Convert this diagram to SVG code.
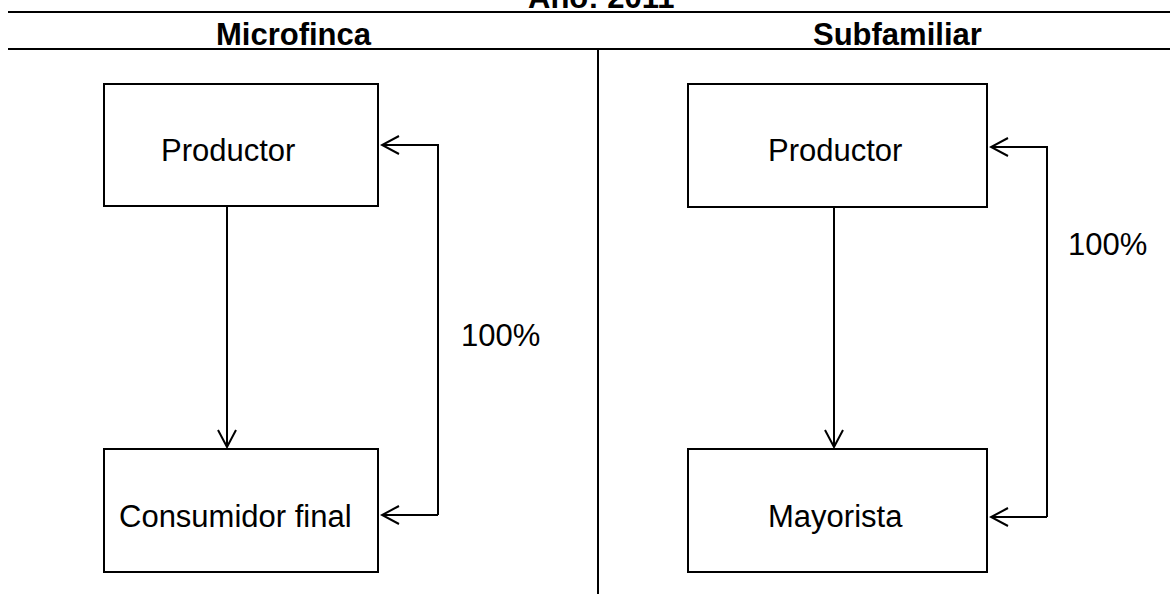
<svg xmlns="http://www.w3.org/2000/svg" width="1175" height="594" viewBox="0 0 1175 594">
<style>
.box{fill:#fff;stroke:#000;stroke-width:2}
.ln{fill:none;stroke:#000;stroke-width:2}
.t{font-family:"Liberation Sans",Arial,sans-serif;font-size:31px;fill:#000}
.h{font-family:"Liberation Sans",Arial,sans-serif;font-size:31px;font-weight:bold;fill:#000}
</style>
<defs>
<marker id="arr" viewBox="0 0 20 20" refX="18" refY="10" markerWidth="20" markerHeight="20" markerUnits="userSpaceOnUse" orient="auto">
<path d="M1,1 L18,10 L1,19" fill="none" stroke="#000" stroke-width="2"/>
</marker>
</defs>
<rect width="1175" height="594" fill="#fff"/>
<g id="header">
<text class="h" x="528" y="8">Año: 2011</text>
<line class="ln" x1="8" y1="12" x2="1170" y2="12"/>
<line class="ln" x1="8" y1="49" x2="1170" y2="49"/>
<line class="ln" x1="598" y1="49" x2="598" y2="594"/>
<text class="h" x="216" y="45">Microfinca</text>
<text class="h" x="813" y="45">Subfamiliar</text>
</g>
<g id="connectors">
<line class="ln" x1="227" y1="206" x2="227" y2="447" marker-end="url(#arr)"/>
<polyline class="ln" points="438,515 438,145 382,145" marker-end="url(#arr)"/>
<line class="ln" x1="438" y1="515" x2="382" y2="515" marker-end="url(#arr)"/>
<line class="ln" x1="834" y1="207" x2="834" y2="447" marker-end="url(#arr)"/>
<polyline class="ln" points="1047,517 1047,147 991,147" marker-end="url(#arr)"/>
<line class="ln" x1="1047" y1="517" x2="991" y2="517" marker-end="url(#arr)"/>
<text class="t" x="461" y="346">100%</text>
<text class="t" x="1068" y="255">100%</text>
</g>
<g id="productor-left">
<rect class="box" x="104" y="84" width="274" height="122"/>
<text class="t" x="161" y="161">Productor</text>
</g>
<g id="consumidor-final">
<rect class="box" x="104" y="449" width="274" height="123"/>
<text class="t" x="119" y="527">Consumidor final</text>
</g>
<g id="productor-right">
<rect class="box" x="688" y="84" width="299" height="123"/>
<text class="t" x="768" y="161">Productor</text>
</g>
<g id="mayorista">
<rect class="box" x="688" y="449" width="299" height="123"/>
<text class="t" x="768" y="527">Mayorista</text>
</g>
</svg>
